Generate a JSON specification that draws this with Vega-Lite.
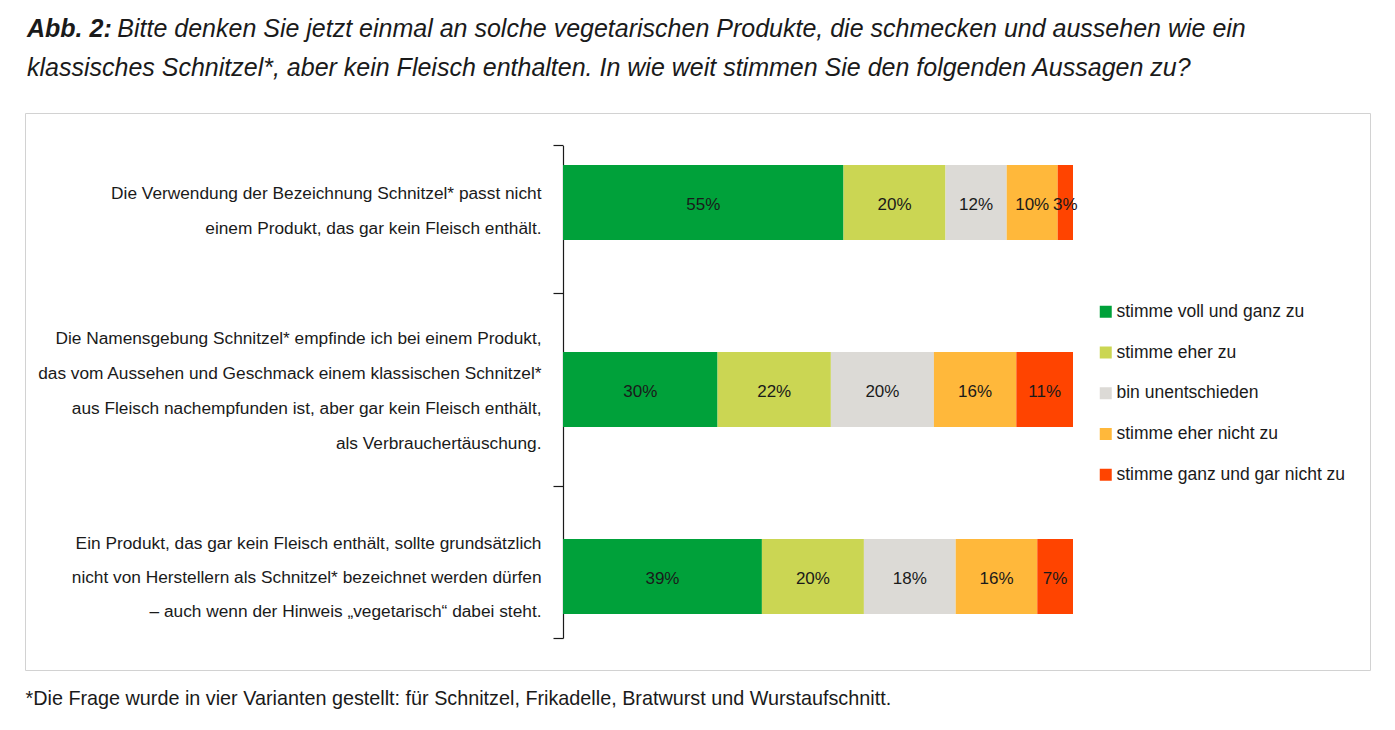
{
  "$schema": "https://vega.github.io/schema/vega-lite/v6.json",
  "width": 1345,
  "height": 557,
  "autosize": {"type": "none"},
  "padding": {"left": 25, "top": 113, "right": 25, "bottom": 60},
  "background": "white",
  "config": {
    "font": "Liberation Sans",
    "view": {"stroke": "#d2d2d2", "strokeWidth": 1}
  },
  "title": {
    "text": "Abb. 2:",
    "subtitle": [
      "\u200b\u00a0\u00a0\u00a0\u00a0\u00a0\u00a0\u00a0\u00a0\u00a0\u00a0\u00a0\u00a0\u00a0Bitte denken Sie jetzt einmal an solche vegetarischen Produkte, die schmecken und aussehen wie ein",
      "klassisches Schnitzel*, aber kein Fleisch enthalten. In wie weit stimmen Sie den folgenden Aussagen zu?"
    ],
    "anchor": "start",
    "frame": "group",
    "dx": 2,
    "offset": 32,
    "font": "Liberation Sans",
    "fontSize": 25,
    "fontStyle": "italic",
    "fontWeight": "bold",
    "color": "#1a1a1a",
    "subtitleFont": "Liberation Sans",
    "subtitleFontSize": 25,
    "subtitleFontStyle": "italic",
    "subtitleFontWeight": "normal",
    "subtitleColor": "#1a1a1a",
    "subtitleLineHeight": 39,
    "subtitlePadding": -25
  },
  "data": {
    "values": [
      {"statement": "Die Verwendung der Bezeichnung Schnitzel* passt nicht\neinem Produkt, das gar kein Fleisch enthält.", "category": "stimme voll und ganz zu", "value": 0.55},
      {"statement": "Die Verwendung der Bezeichnung Schnitzel* passt nicht\neinem Produkt, das gar kein Fleisch enthält.", "category": "stimme eher zu", "value": 0.20},
      {"statement": "Die Verwendung der Bezeichnung Schnitzel* passt nicht\neinem Produkt, das gar kein Fleisch enthält.", "category": "bin unentschieden", "value": 0.12},
      {"statement": "Die Verwendung der Bezeichnung Schnitzel* passt nicht\neinem Produkt, das gar kein Fleisch enthält.", "category": "stimme eher nicht zu", "value": 0.10},
      {"statement": "Die Verwendung der Bezeichnung Schnitzel* passt nicht\neinem Produkt, das gar kein Fleisch enthält.", "category": "stimme ganz und gar nicht zu", "value": 0.03},
      {"statement": "Die Namensgebung Schnitzel* empfinde ich bei einem Produkt,\ndas vom Aussehen und Geschmack einem klassischen Schnitzel*\naus Fleisch nachempfunden ist, aber gar kein Fleisch enthält,\nals Verbrauchertäuschung.", "category": "stimme voll und ganz zu", "value": 0.30},
      {"statement": "Die Namensgebung Schnitzel* empfinde ich bei einem Produkt,\ndas vom Aussehen und Geschmack einem klassischen Schnitzel*\naus Fleisch nachempfunden ist, aber gar kein Fleisch enthält,\nals Verbrauchertäuschung.", "category": "stimme eher zu", "value": 0.22},
      {"statement": "Die Namensgebung Schnitzel* empfinde ich bei einem Produkt,\ndas vom Aussehen und Geschmack einem klassischen Schnitzel*\naus Fleisch nachempfunden ist, aber gar kein Fleisch enthält,\nals Verbrauchertäuschung.", "category": "bin unentschieden", "value": 0.20},
      {"statement": "Die Namensgebung Schnitzel* empfinde ich bei einem Produkt,\ndas vom Aussehen und Geschmack einem klassischen Schnitzel*\naus Fleisch nachempfunden ist, aber gar kein Fleisch enthält,\nals Verbrauchertäuschung.", "category": "stimme eher nicht zu", "value": 0.16},
      {"statement": "Die Namensgebung Schnitzel* empfinde ich bei einem Produkt,\ndas vom Aussehen und Geschmack einem klassischen Schnitzel*\naus Fleisch nachempfunden ist, aber gar kein Fleisch enthält,\nals Verbrauchertäuschung.", "category": "stimme ganz und gar nicht zu", "value": 0.11},
      {"statement": "Ein Produkt, das gar kein Fleisch enthält, sollte grundsätzlich\nnicht von Herstellern als Schnitzel* bezeichnet werden dürfen\n– auch wenn der Hinweis „vegetarisch“ dabei steht.", "category": "stimme voll und ganz zu", "value": 0.39},
      {"statement": "Ein Produkt, das gar kein Fleisch enthält, sollte grundsätzlich\nnicht von Herstellern als Schnitzel* bezeichnet werden dürfen\n– auch wenn der Hinweis „vegetarisch“ dabei steht.", "category": "stimme eher zu", "value": 0.20},
      {"statement": "Ein Produkt, das gar kein Fleisch enthält, sollte grundsätzlich\nnicht von Herstellern als Schnitzel* bezeichnet werden dürfen\n– auch wenn der Hinweis „vegetarisch“ dabei steht.", "category": "bin unentschieden", "value": 0.18},
      {"statement": "Ein Produkt, das gar kein Fleisch enthält, sollte grundsätzlich\nnicht von Herstellern als Schnitzel* bezeichnet werden dürfen\n– auch wenn der Hinweis „vegetarisch“ dabei steht.", "category": "stimme eher nicht zu", "value": 0.16},
      {"statement": "Ein Produkt, das gar kein Fleisch enthält, sollte grundsätzlich\nnicht von Herstellern als Schnitzel* bezeichnet werden dürfen\n– auch wenn der Hinweis „vegetarisch“ dabei steht.", "category": "stimme ganz und gar nicht zu", "value": 0.07}
    ]
  },
  "transform": [
    {"stack": "value", "groupby": ["statement"], "offset": "normalize", "as": ["x0", "x1"]}
  ],
  "layer": [
    {
      "mark": {"type": "bar"},
      "encoding": {
        "y": {
          "field": "statement", "type": "nominal", "sort": null,
          "scale": {"range": [32.5, 525], "paddingInner": 0.599, "paddingOuter": 0.1163, "align": 0.448},
          "axis": {"orient": "left", "offset": -538, "domain": true, "domainColor": "#1a1a1a", "domainWidth": 1.2,
                   "ticks": true, "tickSize": 10, "tickColor": "#1a1a1a", "tickWidth": 1.2, "labels": false, "grid": false, "title": null,
                   "values": ["Die Verwendung der Bezeichnung Schnitzel* passt nicht\neinem Produkt, das gar kein Fleisch enthält."],
                   "bandPosition": 0.5, "tickOffset": -57}
        },
        "x": {
          "field": "x0", "type": "quantitative",
          "scale": {"domain": [0, 1], "range": [538, 1048]},
          "axis": {"orient": "bottom", "domain": false, "ticks": false, "labels": false, "grid": false,
                   "title": "*Die Frage wurde in vier Varianten gestellt: für Schnitzel, Frikadelle, Bratwurst und Wurstaufschnitt.",
                   "titleX": 0, "titleY": 34, "titleAlign": "left", "titleAnchor": null, "titleBaseline": "alphabetic",
                   "titleFontSize": 19.8, "titleFontWeight": "normal", "titleColor": "#1a1a1a"}
        },
        "x2": {"field": "x1"},
        "color": {
          "field": "category", "type": "nominal",
          "scale": {
            "domain": ["stimme voll und ganz zu", "stimme eher zu", "bin unentschieden", "stimme eher nicht zu", "stimme ganz und gar nicht zu"],
            "range": ["#00A13A", "#CBD653", "#DCDAD6", "#FFB83B", "#FF4400"]
          },
          "legend": {"title": null, "orient": "none", "legendX": 1072, "legendY": 190, "symbolType": "square", "symbolSize": 144,
                     "symbolStrokeWidth": 0, "labelFontSize": 17.5, "labelColor": "#1a1a1a", "rowPadding": 21.75, "labelOffset": 2,
                     "padding": 0, "labelLimit": 400}
        }
      }
    },
    {
      "transform": [{"fold": ["x0", "x1"], "as": ["k", "pos"]}],
      "mark": {"type": "text", "fontSize": 17, "color": "#1a1a1a", "baseline": "middle", "align": "center", "dy": 3},
      "encoding": {
        "y": {
          "field": "statement", "type": "nominal", "sort": null,
          "axis": {"orient": "left", "offset": -538, "domain": false,
                   "ticks": true, "tickSize": 10, "tickColor": "#1a1a1a", "tickWidth": 1.2, "grid": false, "title": null,
                   "labels": true, "labelPadding": 12, "labelExpr": "split(datum.label, '\\n')", "labelFontSize": 17.3, "labelColor": "#1a1a1a",
                   "labelLimit": 700, "labelLineHeight": 35, "labelBaseline": "middle", "labelAlign": "right",
                   "values": ["Die Verwendung der Bezeichnung Schnitzel* passt nicht\neinem Produkt, das gar kein Fleisch enthält."],
                   "bandPosition": 0.5, "tickOffset": 90.5, "labelOffset": -99.5}
        },
        "x": {
          "field": "pos", "aggregate": "mean", "type": "quantitative",
          "axis": {"orient": "bottom", "domain": false, "ticks": false, "labels": false, "grid": false,
                   "title": "*Die Frage wurde in vier Varianten gestellt: für Schnitzel, Frikadelle, Bratwurst und Wurstaufschnitt.",
                   "titleX": 0, "titleY": 34, "titleAlign": "left", "titleAnchor": null, "titleBaseline": "alphabetic",
                   "titleFontSize": 19.8, "titleFontWeight": "normal", "titleColor": "#1a1a1a"}
        },
        "detail": {"field": "category"},
        "text": {"field": "value", "type": "quantitative", "format": ".0%"}
      }
    },
    {
      "mark": {"type": "point", "opacity": 0},
      "encoding": {
        "y": {
          "field": "statement", "type": "nominal", "sort": null,
          "axis": {"orient": "left", "offset": -538, "domain": false,
                   "ticks": true, "tickSize": 10, "tickColor": "#1a1a1a", "tickWidth": 1.2, "grid": false, "title": null,
                   "labels": true, "labelPadding": 12, "labelExpr": "split(datum.label, '\\n')", "labelFontSize": 17.3, "labelColor": "#1a1a1a",
                   "labelLimit": 700, "labelLineHeight": 34.7, "labelBaseline": "middle", "labelAlign": "right",
                   "values": ["Die Namensgebung Schnitzel* empfinde ich bei einem Produkt,\ndas vom Aussehen und Geschmack einem klassischen Schnitzel*\naus Fleisch nachempfunden ist, aber gar kein Fleisch enthält,\nals Verbrauchertäuschung."],
                   "bandPosition": 0.5, "tickOffset": 96.2, "labelOffset": -146.7}
        },
        "x": {
          "field": "x0", "type": "quantitative",
          "axis": {"orient": "bottom", "domain": false, "ticks": false, "labels": false, "grid": false,
                   "title": "*Die Frage wurde in vier Varianten gestellt: für Schnitzel, Frikadelle, Bratwurst und Wurstaufschnitt.",
                   "titleX": 0, "titleY": 34, "titleAlign": "left", "titleAnchor": null, "titleBaseline": "alphabetic",
                   "titleFontSize": 19.8, "titleFontWeight": "normal", "titleColor": "#1a1a1a"}
        }
      }
    },
    {
      "mark": {"type": "point", "opacity": 0},
      "encoding": {
        "y": {
          "field": "statement", "type": "nominal", "sort": null,
          "axis": {"orient": "left", "offset": -538, "domain": false,
                   "ticks": true, "tickSize": 10, "tickColor": "#1a1a1a", "tickWidth": 1.2, "grid": false, "title": null,
                   "labels": true, "labelPadding": 12, "labelExpr": "split(datum.label, '\\n')", "labelFontSize": 17.3, "labelColor": "#1a1a1a",
                   "labelLimit": 700, "labelLineHeight": 34, "labelBaseline": "middle", "labelAlign": "right",
                   "values": ["Ein Produkt, das gar kein Fleisch enthält, sollte grundsätzlich\nnicht von Herstellern als Schnitzel* bezeichnet werden dürfen\n– auch wenn der Hinweis „vegetarisch“ dabei steht."],
                   "bandPosition": 0.5, "tickOffset": 61.5, "labelOffset": -94}
        },
        "x": {
          "field": "x0", "type": "quantitative",
          "axis": {"orient": "bottom", "domain": false, "ticks": false, "labels": false, "grid": false,
                   "title": "*Die Frage wurde in vier Varianten gestellt: für Schnitzel, Frikadelle, Bratwurst und Wurstaufschnitt.",
                   "titleX": 0, "titleY": 34, "titleAlign": "left", "titleAnchor": null, "titleBaseline": "alphabetic",
                   "titleFontSize": 19.8, "titleFontWeight": "normal", "titleColor": "#1a1a1a"}
        }
      }
    }
  ],
  "resolve": {"axis": {"y": "independent"}}
}
